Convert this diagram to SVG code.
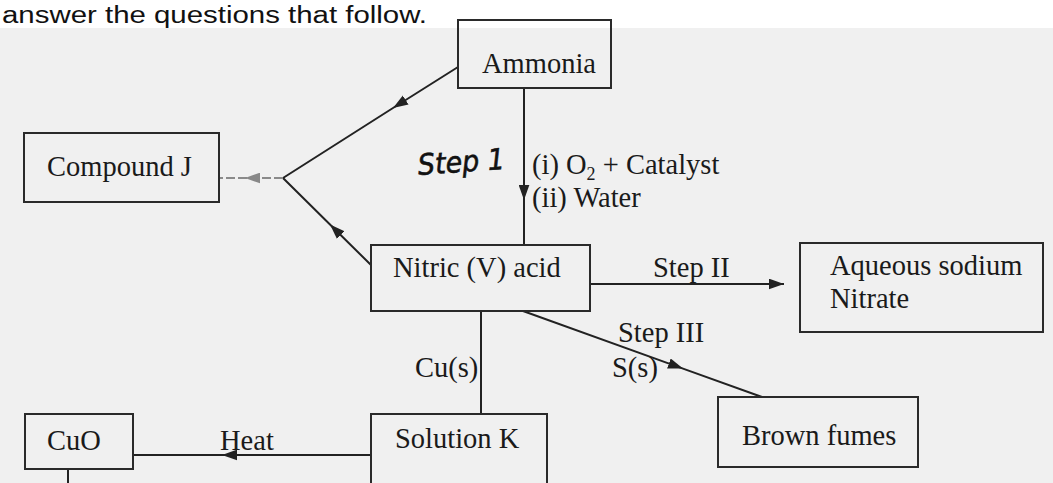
<svg xmlns="http://www.w3.org/2000/svg" width="1053" height="483" viewBox="0 0 1053 483">
<defs>
<style>
.box{fill:none;stroke:#2a2a2a;stroke-width:2}
.t{font-family:"Liberation Serif","Times New Roman",serif;font-size:28.5px;fill:#1a1a1a}
.ln{fill:none;stroke:#222;stroke-width:2}
.dash{fill:none;stroke:#8a8a8a;stroke-width:2;stroke-dasharray:9 3}
</style>
<marker id="ah" viewBox="0 0 14 10" refX="14" refY="5" markerWidth="15" markerHeight="11" markerUnits="userSpaceOnUse" orient="auto">
<path d="M0,0 L14,5 L0,10 z" fill="#222"/>
</marker>
<marker id="ahg" viewBox="0 0 14 10" refX="14" refY="5" markerWidth="15" markerHeight="11" markerUnits="userSpaceOnUse" orient="auto">
<path d="M0,0 L14,5 L0,10 z" fill="#888"/>
</marker>
</defs>
<rect x="0" y="0" width="1053" height="483" fill="#ffffff"/>
<rect x="0" y="28" width="1053" height="455" fill="#f0f0f0"/>
<text x="2" y="23" font-family="'Liberation Sans',sans-serif" font-size="23" fill="#111" textLength="425" lengthAdjust="spacingAndGlyphs">answer the questions that follow.</text>

<g id="connectors">
<polyline class="ln" points="524,88 524,200 524,245" marker-mid="url(#ah)"/>
<polyline class="ln" points="458,67 393,108 283,178" marker-mid="url(#ah)"/>
<polyline class="ln" points="371,265 330,224.5 283,178" marker-mid="url(#ah)"/>
<polyline class="dash" points="283,178 245,178 219,178" marker-mid="url(#ahg)"/>
<line class="ln" x1="590" y1="284" x2="784" y2="284" marker-end="url(#ah)"/>
<polyline class="ln" points="523,311 683,368.6 762,397" marker-mid="url(#ah)"/>
<line class="ln" x1="481" y1="311" x2="481" y2="414"/>
<polyline class="ln" points="371,455 222,455 133,455" marker-mid="url(#ah)"/>
<line class="ln" x1="68" y1="469" x2="68" y2="483"/>
<text class="t" x="532" y="174" font-size="27">(i) O<tspan font-size="18" dy="6">2</tspan><tspan dy="-6"> + Catalyst</tspan></text>
<text class="t" x="532" y="207" font-size="26">(ii) Water</text>
<text x="418" y="172" font-family="'DejaVu Sans',sans-serif" font-style="italic" font-size="29" fill="#111" stroke="#111" stroke-width="0.6" textLength="87" lengthAdjust="spacingAndGlyphs" transform="rotate(-4 460 165)">Step 1</text>
<text class="t" x="653" y="277">Step II</text>
<text class="t" x="618" y="342">Step III</text>
<text class="t" x="612" y="377">S(s)</text>
<text class="t" x="415" y="377">Cu(s)</text>
<text class="t" x="220" y="450">Heat</text>
</g>

<g id="ammonia">
<rect class="box" x="458" y="20" width="153" height="68"/>
<text class="t" x="482" y="73">Ammonia</text>
</g>
<g id="compound-j">
<rect class="box" x="24" y="133" width="195" height="69"/>
<text class="t" x="47" y="176">Compound J</text>
</g>
<g id="nitric-acid">
<rect class="box" x="371" y="245" width="219" height="66"/>
<text class="t" x="393" y="277">Nitric (V) acid</text>
</g>
<g id="aqueous-sodium-nitrate">
<rect class="box" x="800" y="243" width="243" height="89"/>
<text class="t" x="830" y="275">Aqueous sodium</text>
<text class="t" x="830" y="308">Nitrate</text>
</g>
<g id="brown-fumes">
<rect class="box" x="718" y="397" width="200" height="70"/>
<text class="t" x="742" y="445">Brown fumes</text>
</g>
<g id="solution-k">
<rect class="box" x="371" y="414" width="176" height="80"/>
<text class="t" x="395" y="448">Solution K</text>
</g>
<g id="cuo">
<rect class="box" x="25" y="414" width="108" height="55"/>
<text class="t" x="47" y="450">CuO</text>
</g>
</svg>
